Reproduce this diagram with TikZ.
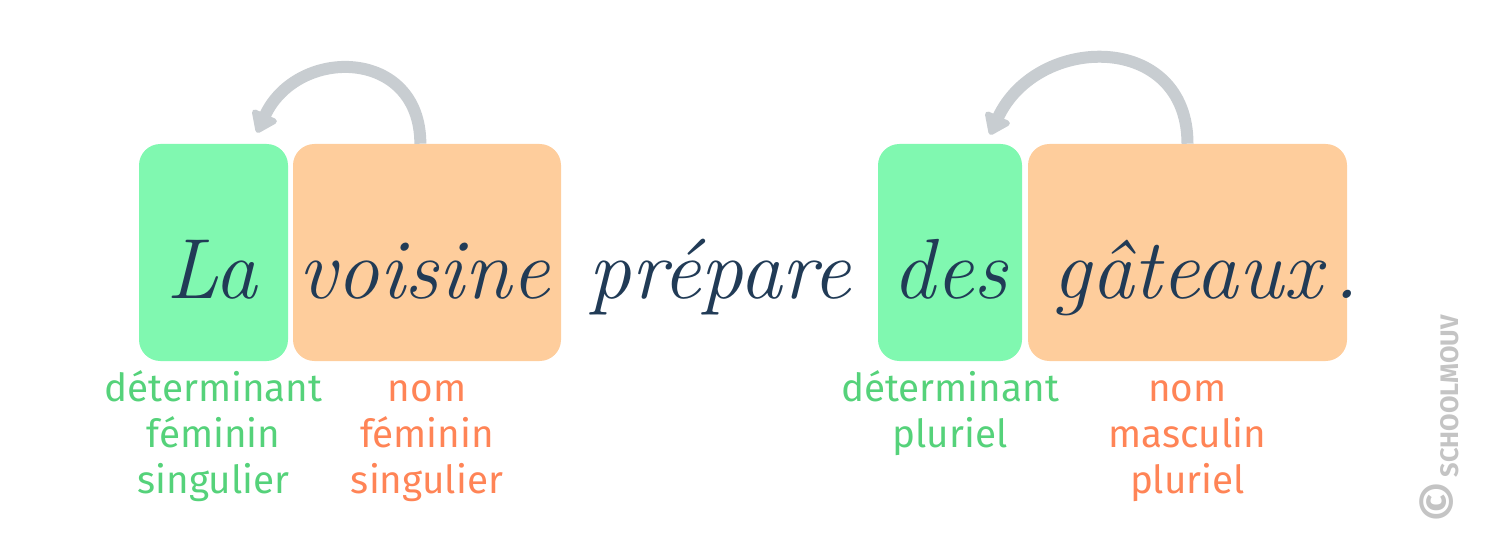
\documentclass[tikz,border=0pt]{standalone}
\usepackage{fontspec}
\setsansfont{Fira Sans}
\usetikzlibrary{positioning,arrows.meta}
\definecolor{detgreen}{HTML}{80F8B0}
\definecolor{nomorange}{HTML}{FECD9C}
\definecolor{dettext}{HTML}{55D27A}
\definecolor{nomtext}{HTML}{FF8456}
\definecolor{navy}{HTML}{213B56}
\definecolor{arrowgrey}{HTML}{C8CDD1}
\definecolor{markgrey}{HTML}{C4C4C4}
\IfFileExists{pzcmi8t.tfm}
  {\newcommand{\cursive}{\usefont{T1}{pzc}{mb}{it}\fontsize{62}{62}\selectfont}}
  {\newcommand{\cursive}{\rmfamily\itshape\fontsize{64}{64}\selectfont}}

\begin{document}
\begin{tikzpicture}[x=0.75pt,y=0.75pt,
  box/.style={rectangle, rounded corners=16pt, minimum height=162.75pt, inner sep=0pt},
  detbox/.style={box, fill=detgreen},
  nombox/.style={box, fill=nomorange},
  word/.style={anchor=base, inner sep=0pt, text=navy, font=\cursive},
  lbl/.style={align=center, inner sep=0pt, font=\sffamily\fontsize{29}{34.5}\selectfont},
  detlbl/.style={lbl, text=dettext},
  nomlbl/.style={lbl, text=nomtext},
  accord/.style={arrowgrey, line width=9pt, -{Triangle[width=23pt,length=17pt,round]}}]
\useasboundingbox (0,0) rectangle (1487,554);

\node[detbox, minimum width=111.75pt](detLa) at (213.5,301.5){};
\node[nombox, minimum width=201pt](nomVoisine) at (427,301.5){};
\node[detbox, minimum width=108pt](detDes) at (950,301.5){};
\node[nombox, minimum width=239.25pt](nomGateaux) at (1187.5,301.5){};

\node[word](wLa) at (212,256){La};
\node[word](wVoisine) at (424,256){voisine};
\node[word](wPrepare) at (720,256){prépare};
\node[word](wDes) at (950,256){des};
\node[word](wGateaux) at (1187,256){gâteaux};
\node[word](wPoint) at (1346,256){.};

\node[detlbl](lblLa)[below = 6pt of detLa]{\strut déterminant\\féminin\\singulier};
\node[nomlbl](lblVoisine)[below = 6pt of nomVoisine]{\strut nom\\féminin\\singulier};
\node[detlbl](lblDes)[below = 6pt of detDes]{\strut déterminant\\pluriel};
\node[nomlbl](lblGateaux)[below = 6pt of nomGateaux]{\strut nom\\masculin\\pluriel};

\draw[accord] ([xshift=-5pt]nomVoisine.north) .. controls +(90:96) and +(65:96) .. ([xshift=32.6pt,yshift=8.25pt]detLa.north);
\draw[accord] (nomGateaux.north) .. controls +(90:112) and +(65:112) .. ([xshift=30pt,yshift=6.75pt]detDes.north);

\node[rotate=90, text=markgrey, font=\sffamily\bfseries\fontsize{19}{19}\selectfont](mark) at (1439,135){{\fontsize{38}{38}\selectfont ©}\,SCHOOLMOUV};
\end{tikzpicture}
\end{document}
